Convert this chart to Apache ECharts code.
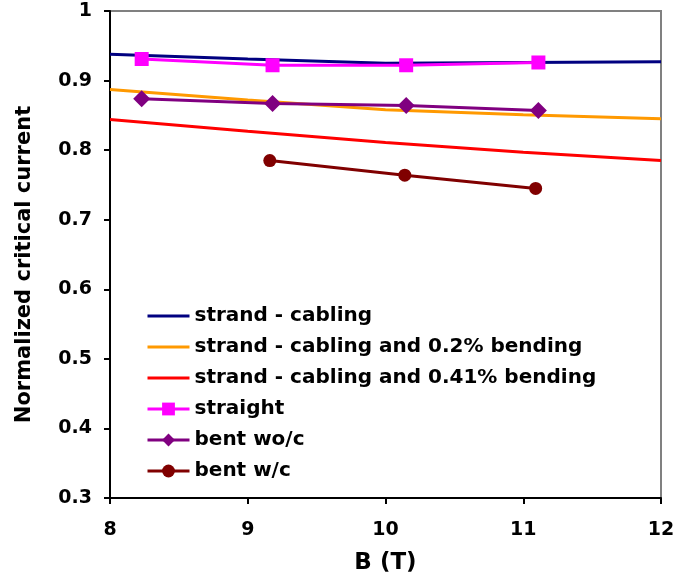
<!DOCTYPE html>
<html>
<head>
<meta charset="utf-8">
<script src="https://cdn.jsdelivr.net/npm/echarts@6/dist/echarts.min.js"></script>
<style>
  html, body { margin: 0; padding: 0; background: #fff; }
  #chart { width: 675px; height: 576px; }
</style>
</head>
<body>
<div id="chart"></div>
<script>
// Field values B (T)
const modelB = [8, 9, 10, 11, 12];
const measB = [8.23, 9.18, 10.15, 11.11];
const measBwc = [9.16, 10.14, 11.09];

// Calculated critical current ratios (strand minus cabling degradation)
const strandCabling = [0.938, 0.931, 0.925, 0.926, 0.927];
const bend02 = [0.887, 0.872, 0.858, 0.851, 0.845];
const bend041 = [0.844, 0.827, 0.811, 0.797, 0.785];

// Measured critical current ratios
const straight = [0.931, 0.922, 0.922, 0.926];
const bentWoc = [0.874, 0.867, 0.864, 0.857];
const bentWc = [0.785, 0.764, 0.745];

const seriesNames = [
  'strand - cabling',
  'strand - cabling and 0.2% bending',
  'strand - cabling and 0.41% bending',
  'straight',
  'bent wo/c',
  'bent w/c'
];

const pairs = (xs, ys) => xs.map((x, i) => [x, ys[i]]);
const font = 'DejaVu Sans, sans-serif';
// plain bar icon for the calculated curves in the legend
const barIcon = 'path://M0,0L40,0L40,3L0,3Z';

function lineSeries(name, xs, ys, color, symbol, size) {
  return {
    name: name,
    type: 'line',
    data: pairs(xs, ys),
    symbol: symbol || 'none',
    symbolSize: size || 0,
    showSymbol: !!symbol,
    itemStyle: { color: color },
    lineStyle: { color: color, width: 3 },
    emphasis: { disabled: true },
    animation: false
  };
}

const chart = echarts.init(document.getElementById('chart'), null, { renderer: 'canvas' });
chart.setOption({
  backgroundColor: '#ffffff',
  animation: false,
  grid: {
    left: 110, right: 14, top: 11, bottom: 78,
    outerBoundsMode: 'none',
    containLabel: false,
    show: true, borderColor: '#808080', borderWidth: 2, backgroundColor: 'transparent'
  },
  legend: {
    orient: 'vertical',
    left: 141, top: 301,
    itemWidth: 42, itemHeight: 16, itemGap: 11,
    lineStyle: { width: 3 },
    data: seriesNames.map((n, i) => (i < 3 ? { name: n, icon: barIcon } : { name: n })),
    textStyle: { fontFamily: font, fontWeight: 'bold', fontSize: 20, color: '#000' }
  },
  xAxis: {
    type: 'value', min: 8, max: 12, interval: 1,
    name: 'B (T)', nameLocation: 'middle', nameGap: 54,
    nameTextStyle: { fontFamily: font, fontWeight: 'bold', fontSize: 23, color: '#000' },
    axisLine: { show: true, lineStyle: { color: '#000', width: 2 } },
    axisTick: { show: true, length: 6, lineStyle: { color: '#000', width: 2 } },
    axisLabel: { fontFamily: font, fontWeight: 'bold', fontSize: 19, color: '#000', margin: 23 },
    splitLine: { show: false }
  },
  yAxis: {
    type: 'value', min: 0.3, max: 1, interval: 0.1,
    name: 'Normalized critical current', nameLocation: 'middle', nameGap: 75,
    nameTextStyle: {
      fontFamily: font, fontWeight: 'bold', fontSize: 21, color: '#000',
      padding: [0, 20, 0, 0]
    },
    axisLine: { show: true, lineStyle: { color: '#000', width: 2 } },
    axisTick: { show: true, length: 6, lineStyle: { color: '#000', width: 2 } },
    axisLabel: {
      fontFamily: font, fontWeight: 'bold', fontSize: 19, color: '#000', margin: 18,
      formatter: v => String(Math.round(v * 10) / 10)
    },
    splitLine: { show: false }
  },
  series: [
    lineSeries(seriesNames[0], modelB, strandCabling, '#000080'),
    lineSeries(seriesNames[1], modelB, bend02, '#FF9900'),
    lineSeries(seriesNames[2], modelB, bend041, '#FF0000'),
    lineSeries(seriesNames[3], measB, straight, '#FF00FF', 'rect', 14),
    lineSeries(seriesNames[4], measB, bentWoc, '#800080', 'diamond', 17),
    lineSeries(seriesNames[5], measBwc, bentWc, '#800000', 'circle', 13)
  ]
});
</script>
</body>
</html>
